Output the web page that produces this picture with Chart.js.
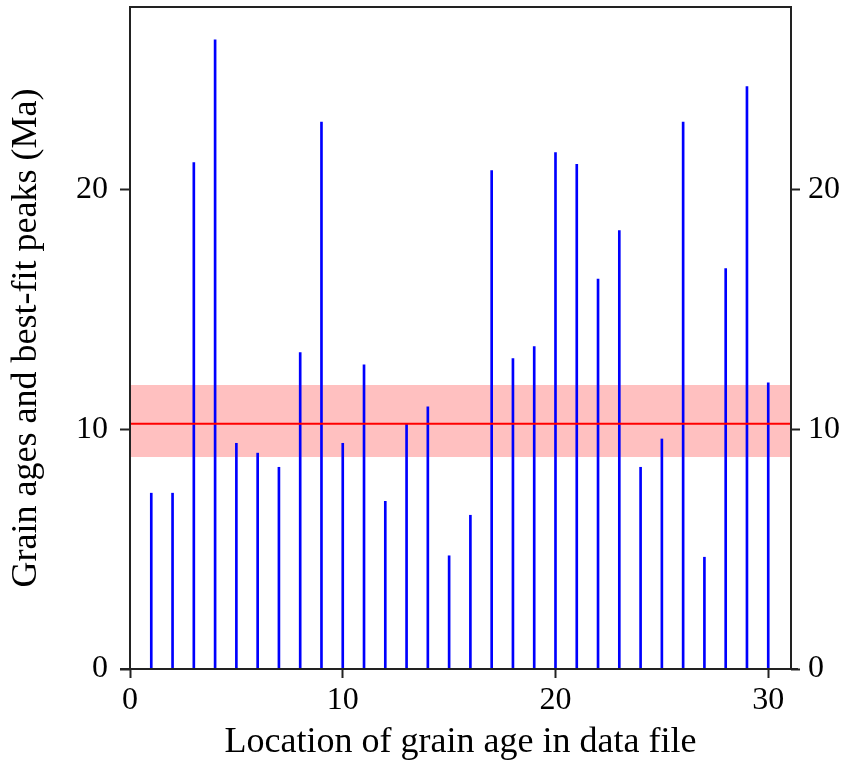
<!DOCTYPE html>
<html>
<head>
<meta charset="utf-8">
<script src="https://cdn.jsdelivr.net/npm/chart.js@4.4.1/dist/chart.umd.min.js"></script>
<style>
  html, body { margin: 0; padding: 0; background: #fff; }
  #wrap { width: 850px; height: 765px; }
</style>
</head>
<body>
<div id="wrap"><canvas id="grainChart" width="850" height="765"></canvas></div>
<script>
// grain positions in the data file and their ages (Ma)
const positions = [1, 2, 3, 4, 5, 6, 7, 8, 9, 10, 11, 12, 13, 14, 15,
                   16, 17, 18, 19, 20, 21, 22, 23, 24, 25, 26, 27, 28, 29, 30];
const grainAges = [7.33, 7.33, 21.11, 26.23, 9.41, 9.0, 8.41, 13.19, 22.8, 9.41, 12.68, 6.99, 10.2, 10.93, 4.72,
                   6.41, 20.78, 12.94, 13.44, 21.53, 21.04, 16.26, 18.28, 8.41, 9.59, 22.8, 4.66, 16.69, 24.28, 11.93];

// best-fit peak and its uncertainty band
const peakAge = 10.23;
const peakLow = 8.84;
const peakHigh = 11.84;

// axis ranges and tick labels
const xRange = [0, 31.07];
const yRange = [0, 27.6];
const xTicks = [0, 10, 20, 30];
const yTicks = [0, 10, 20];

const serif = 'Liberation Serif';

const barData = positions.map((p, i) => ({ x: p, y: grainAges[i] }));

const keepTicks = list => scale => {
    scale.ticks = list.map(v => ({ value: v }));
};

// draws the box around the plot
const framePlugin = {
    id: 'frame',
    afterDraw(chart) {
        const { ctx, chartArea: a } = chart;
        ctx.save();
        ctx.strokeStyle = '#222';
        ctx.lineWidth = 2;
        ctx.strokeRect(a.left, a.top, a.right - a.left, a.bottom - a.top);
        ctx.beginPath();
        ctx.moveTo(a.left - 10, a.bottom);
        ctx.lineTo(a.right + 7, a.bottom);
        ctx.stroke();
        ctx.restore();
    }
};

const ctx = document.getElementById('grainChart').getContext('2d');
const grainChart = new Chart(ctx, {
    type: 'bar',
    data: {
        datasets: [
            {
                type: 'line',
                label: 'peak',
                data: xRange.map(x => ({ x: x, y: peakAge })),
                borderColor: '#ff0000',
                borderWidth: 2,
                pointRadius: 0,
                order: 0
            },
            {
                type: 'bar',
                label: 'grain ages',
                data: barData,
                backgroundColor: '#0000ff',
                barThickness: 2,
                order: 1
            },
            {
                type: 'line',
                label: 'band',
                data: xRange.map(x => ({ x: x, y: peakHigh })),
                borderWidth: 0,
                pointRadius: 0,
                backgroundColor: '#ffc0c0',
                fill: { value: peakLow },
                order: 2
            }
        ]
    },
    plugins: [framePlugin],
    options: {
        responsive: false,
        animation: false,
        layout: { padding: { top: 7, left: 0, right: 0, bottom: 0 } },
        plugins: {
            legend: { display: false },
            tooltip: { enabled: false }
        },
        scales: {
            x: {
                type: 'linear',
                min: xRange[0],
                max: xRange[1],
                offset: false,
                afterBuildTicks: keepTicks(xTicks),
                afterFit: s => { s.height = 96; s.paddingLeft = 0; s.paddingRight = 0; },
                grid: { offset: false, drawOnChartArea: false, tickLength: 9, tickColor: '#222', tickWidth: 2 },
                border: { display: false },
                ticks: { color: '#000', padding: 3, maxRotation: 0, font: { family: serif, size: 32 } },
                title: {
                    display: true,
                    text: 'Location of grain age in data file',
                    color: '#000',
                    padding: { top: 0, bottom: 1 },
                    font: { family: serif, size: 36 }
                }
            },
            y: {
                position: 'left',
                min: yRange[0],
                max: yRange[1],
                afterBuildTicks: keepTicks(yTicks),
                afterFit: s => { s.width = 130; s.paddingTop = 0; s.paddingBottom = 0; },
                grid: { drawOnChartArea: false, tickLength: 10, tickColor: '#222', tickWidth: 2 },
                border: { display: false },
                ticks: { color: '#000', padding: 12, font: { family: serif, size: 32 } },
                title: {
                    display: true,
                    text: 'Grain ages and best-fit peaks (Ma)',
                    color: '#000',
                    padding: { top: 5, bottom: 0 },
                    font: { family: serif, size: 36 }
                }
            },
            y2: {
                position: 'right',
                min: yRange[0],
                max: yRange[1],
                afterBuildTicks: keepTicks(yTicks),
                afterFit: s => { s.width = 59; s.paddingTop = 0; s.paddingBottom = 0; },
                grid: { drawOnChartArea: false, tickLength: 9, tickColor: '#222', tickWidth: 2 },
                border: { display: false },
                ticks: { color: '#000', padding: 8, font: { family: serif, size: 32 } }
            }
        }
    }
});
</script>
</body>
</html>
